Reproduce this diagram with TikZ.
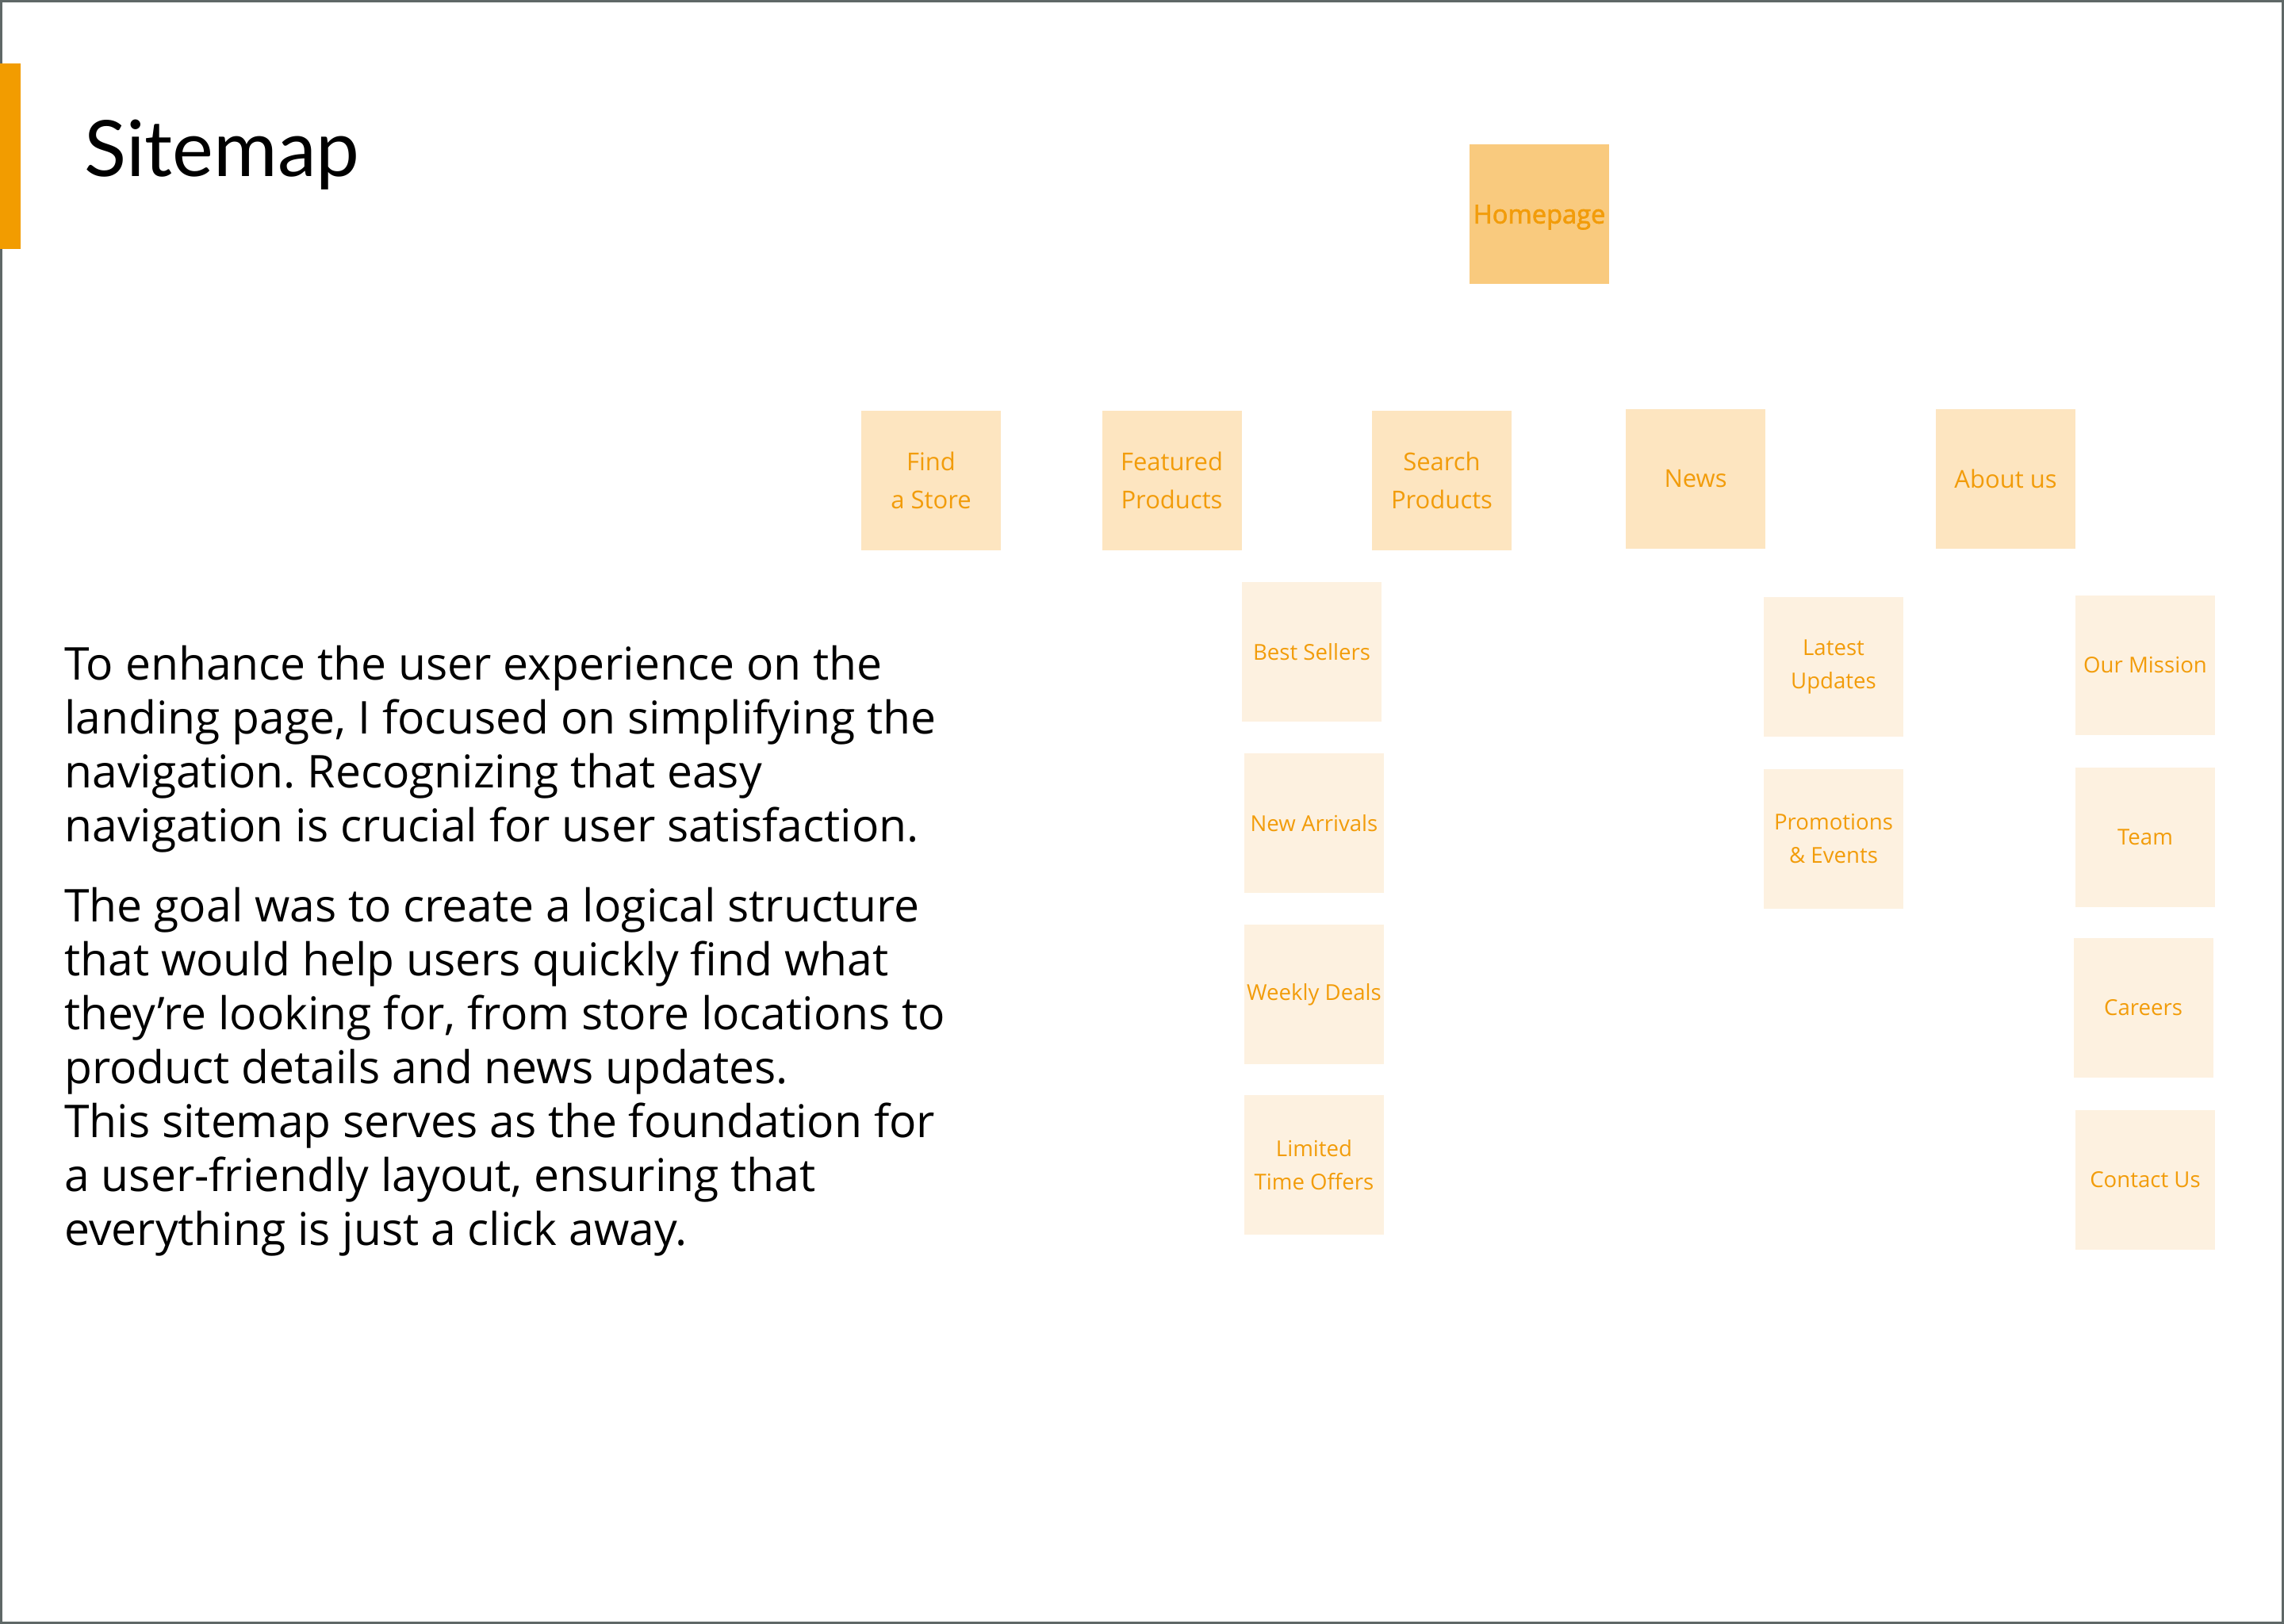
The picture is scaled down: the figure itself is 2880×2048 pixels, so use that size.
\documentclass[tikz,border=0pt]{standalone}
\usepackage{fontspec}
\setmainfont{Open Sans}
\newfontfamily\titlefont{Lato}
\newfontfamily\hpfont[FakeBold=2.2]{Open Sans}
\definecolor{framegray}{HTML}{5F6867}
\definecolor{barorange}{HTML}{F29C00}
\definecolor{labelorange}{HTML}{F29C0A}
\definecolor{hpfill}{HTML}{F9CA7E}
\definecolor{lvtwofill}{HTML}{FDE5C0}
\definecolor{lvthreefill}{HTML}{FDF1E0}
\tikzset{
  hpbox/.style={fill=hpfill, minimum width=88pt, minimum height=88pt, inner sep=0pt,
    text=labelorange, align=center, font=\hpfont\fontsize{16.3}{20}\selectfont},
  lvtwo/.style={fill=lvtwofill, minimum width=88pt, minimum height=88pt, inner sep=0pt,
    text=labelorange, align=center, font=\fontsize{15.5}{24}\selectfont},
  lvthree/.style={fill=lvthreefill, minimum width=88pt, minimum height=88pt, inner sep=0pt,
    text=labelorange, align=center, font=\fontsize{13.8}{21}\selectfont},
  bodyline/.style={anchor=base west, inner sep=0pt, font=\fontsize{28.5}{34}\selectfont, text=black},
}
\begin{document}
\frenchspacing
\begin{tikzpicture}[x=0.5pt,y=-0.5pt]
\useasboundingbox (0,0) rectangle (2880,2048);
\fill[white] (0,0) rectangle (2880,2048);
\draw[framegray, line width=1.5pt] (1.5,1.5) rectangle (2878.5,2046.5);
\fill[barorange] (0,80) rectangle (26,314);
\node[anchor=base west, inner sep=0pt, font=\titlefont\fontsize{49}{55}\selectfont] (title) at (106,223) {Sitemap};

% hierarchy boxes
\node[hpbox, text depth=0pt, text height=0pt] (home) at (1941,270) {\raisebox{-0.36em}{Homepage}};
\node[lvtwo] (store) at (1174,606) {Find\\a Store};
\node[lvtwo] (featured) at (1477.5,606) {Featured\\Products};
\node[lvtwo] (search) at (1818,606) {Search\\Products};
\node[lvtwo] (news) at (2138,604) {News};
\node[lvtwo] (about) at (2529,604) {About us};

\node[lvthree] (best) at (1654,822) {Best Sellers};
\node[lvthree] (arrivals) at (1657,1038) {New Arrivals};
\node[lvthree] (weekly) at (1657,1254) {Weekly Deals};
\node[lvthree] (limited) at (1657,1469) {Limited\\Time Offers};
\node[lvthree] (latest) at (2312,841) {Latest\\Updates};
\node[lvthree] (promo) at (2312,1058) {Promotions\\\& Events};
\node[lvthree] (mission) at (2705,839) {Our Mission};
\node[lvthree] (team) at (2705,1056) {Team};
\node[lvthree] (careers) at (2702.5,1271) {Careers};
\node[lvthree] (contact) at (2705,1488) {Contact Us};

% body text
\node[bodyline] (l1) at (81,857) {To enhance the user experience on the};
\node[bodyline] (l2) at (81,925) {landing page, I focused on simplifying the};
\node[bodyline] (l3) at (81,993) {navigation. Recognizing that easy};
\node[bodyline] (l4) at (81,1061) {navigation is crucial for user satisfaction.};
\node[bodyline] (l5) at (81,1162) {The goal was to create a logical structure};
\node[bodyline] (l6) at (81,1230) {that would help users quickly find what};
\node[bodyline] (l7) at (81,1298) {they’re looking for, from store locations to};
\node[bodyline] (l8) at (81,1366) {product details and news updates.};
\node[bodyline] (l9) at (81,1434) {This sitemap serves as the foundation for};
\node[bodyline] (l10) at (81,1502) {a user-friendly layout, ensuring that};
\node[bodyline] (l11) at (81,1570) {everything is just a click away.};
\end{tikzpicture}
\end{document}
